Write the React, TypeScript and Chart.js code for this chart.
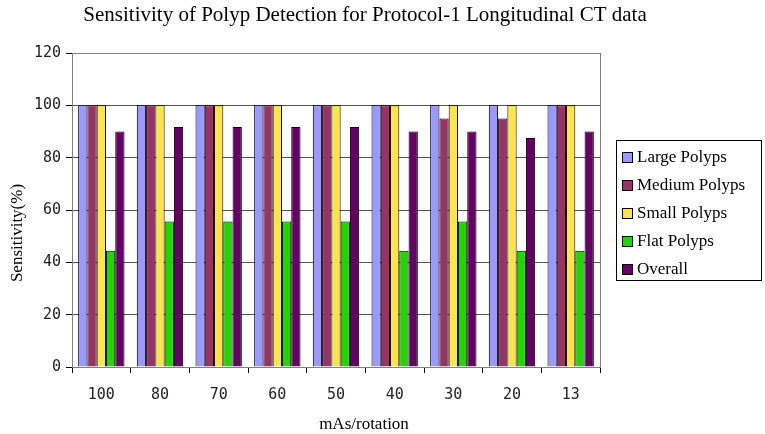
import React, { useEffect, useRef } from "react";
import { Chart, registerables } from "chart.js";

Chart.register(...registerables);

const categories = ["100", "80", "70", "60", "50", "40", "30", "20", "13"];
const seriesNames = ["Large Polyps", "Medium Polyps", "Small Polyps", "Flat Polyps", "Overall"];
const largePolyps = [100, 100, 100, 100, 100, 100, 100, 100, 100];
const mediumPolyps = [100, 100, 100, 100, 100, 100, 95, 95, 100];
const smallPolyps = [100, 100, 100, 100, 100, 100, 100, 100, 100];
const flatPolyps = [44.4, 55.6, 55.6, 55.6, 55.6, 44.4, 55.6, 44.4, 44.4];
const overall = [90, 91.7, 91.7, 91.7, 91.7, 90, 90, 87.5, 90];
const seriesColors = ["#9999FF", "#993366", "#FFE34D", "#22D600", "#660066"];
const yTicks = [0, 20, 40, 60, 80, 100, 120];

const titleText = "Sensitivity of Polyp Detection for Protocol-1 Longitudinal CT data";
const xTitle = "mAs/rotation";
const yTitle = "Sensitivity(%)";

const decorPlugin = {
  id: "decor",
  beforeDatasetsDraw(chart: any) {
    const { ctx, chartArea } = chart;
    ctx.save();
    ctx.strokeStyle = "#808080";
    ctx.lineWidth = 1;
    ctx.strokeRect(chartArea.left + 0.5, chartArea.top + 0.5, chartArea.right - chartArea.left, chartArea.bottom - chartArea.top);
    ctx.restore();
  },
  afterDraw(chart: any) {
    const { ctx } = chart;
    ctx.save();
    ctx.fillStyle = "#000";
    // title
    ctx.font = "21px 'Liberation Serif'";
    ctx.textAlign = "center";
    ctx.textBaseline = "alphabetic";
    ctx.fillText(titleText, 365, 21);
    // x title
    ctx.font = "17px 'Liberation Serif'";
    ctx.fillText(xTitle, 364, 429);
    // y title
    ctx.save();
    ctx.translate(18, 233);
    ctx.rotate(-Math.PI / 2);
    ctx.textBaseline = "middle";
    ctx.fillText(yTitle, 0, 0);
    ctx.restore();
    // legend
    const lx = 616, ly = 140, lw = 145, lh = 140;
    ctx.strokeStyle = "#000";
    ctx.lineWidth = 1;
    ctx.strokeRect(lx + 0.5, ly + 0.5, lw, lh);
    ctx.font = "17px 'Liberation Serif'";
    ctx.textAlign = "left";
    ctx.textBaseline = "alphabetic";
    chart.data.datasets.forEach((ds: any, i: number) => {
      const base = 162 + i * 28;
      ctx.fillStyle = ds.backgroundColor;
      ctx.fillRect(622, base - 10, 10, 10);
      ctx.strokeStyle = "#000";
      ctx.strokeRect(622.5, base - 9.5, 10, 10);
      ctx.fillStyle = "#000";
      ctx.fillText(ds.label, 637, base);
    });
    ctx.restore();
  },
};

export default function App() {
  const ref = useRef<HTMLCanvasElement>(null);
  useEffect(() => {
    document.body.style.margin = "0";
    const seriesData = [largePolyps, mediumPolyps, smallPolyps, flatPolyps, overall];
    const chart = new Chart(ref.current!, {
      type: "bar",
      data: {
        labels: categories,
        datasets: seriesNames.map((name, i) => ({
          label: name,
          data: seriesData[i],
          backgroundColor: seriesColors[i],
          borderColor: "#000",
          borderWidth: 1,
          categoryPercentage: 0.79,
          barPercentage: 1.0,
        })),
      },
      options: {
        responsive: false,
        animation: false,
        devicePixelRatio: 1,
        layout: { padding: { top: 53, right: 165, left: 0, bottom: 0 } },
        plugins: {
          legend: { display: false },
          title: { display: false },
          tooltip: { enabled: false },
        },
        scales: {
          x: {
            grid: { display: true, drawOnChartArea: false, drawTicks: true, tickLength: 6, color: "#000", offset: true },
            border: { color: "#000" },
            ticks: { color: "#222", font: { family: "'DejaVu Sans Mono'", size: 15 }, padding: 13 },
            afterFit: (s: any) => { s.height = 67; },
          },
          y: {
            min: 0,
            max: 120,
            afterBuildTicks: (s: any) => { s.ticks = yTicks.map((v) => ({ value: v })); },
            grid: { color: "#555", tickLength: 6, tickColor: "#000" },
            border: { color: "#000" },
            ticks: { color: "#222", font: { family: "'DejaVu Sans Mono'", size: 15 }, padding: 5 },
            afterFit: (s: any) => { s.width = 72; },
          },
        },
      },
      plugins: [decorPlugin],
    } as any);
    return () => chart.destroy();
  }, []);
  return (
    <div style={{ width: 765, height: 434 }}>
      <canvas ref={ref} width={765} height={434} style={{ display: "block" }} />
    </div>
  );
}
